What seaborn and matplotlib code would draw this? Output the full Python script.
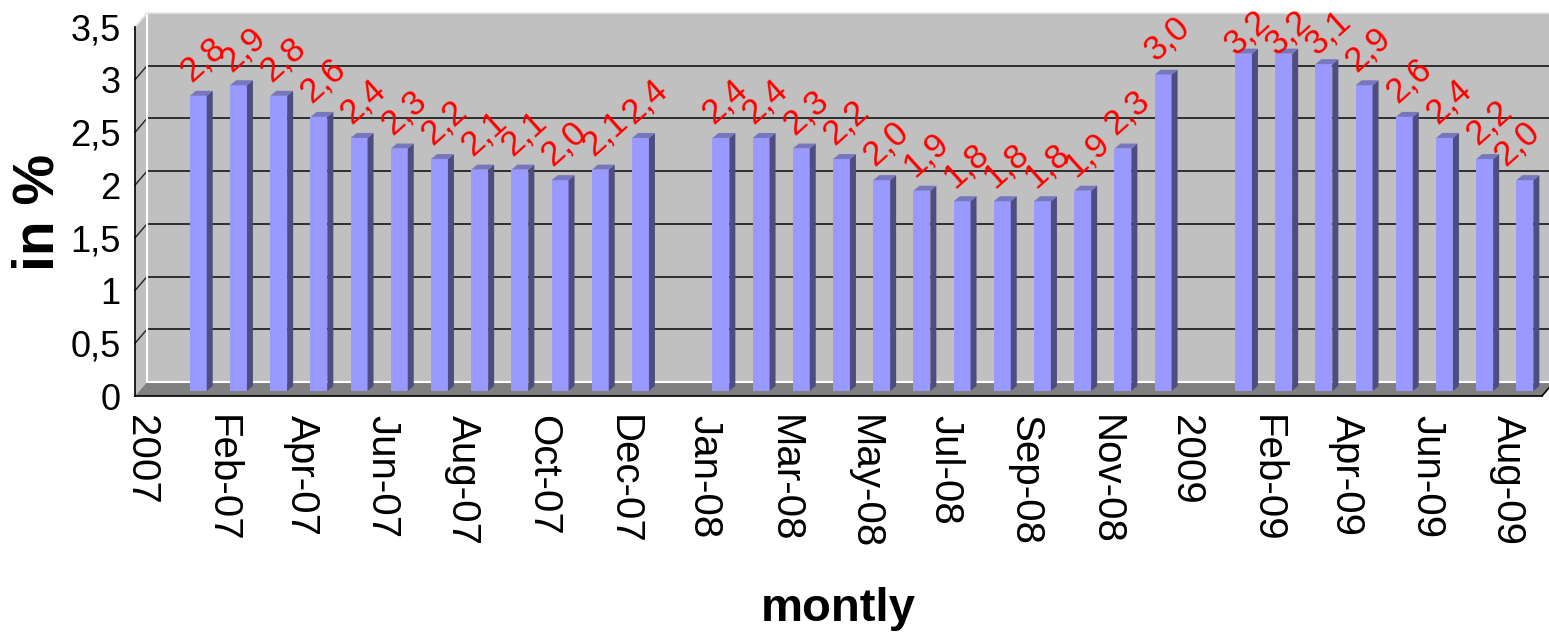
import numpy as np
import pandas as pd
import matplotlib
matplotlib.use("Agg")
import matplotlib.pyplot as plt
import seaborn as sns
from matplotlib.patches import Polygon, Rectangle
from matplotlib.lines import Line2D
from matplotlib.transforms import ScaledTranslation

# Monthly rate in %, one slot per month plus an empty slot heading each year
months = ["2007", "Jan-07", "Feb-07", "Mar-07", "Apr-07", "May-07", "Jun-07",
          "Jul-07", "Aug-07", "Sep-07", "Oct-07", "Nov-07", "Dec-07",
          "2008", "Jan-08", "Feb-08", "Mar-08", "Apr-08", "May-08", "Jun-08",
          "Jul-08", "Aug-08", "Sep-08", "Oct-08", "Nov-08", "Dec-08",
          "2009", "Jan-09", "Feb-09", "Mar-09", "Apr-09", "May-09", "Jun-09",
          "Jul-09", "Aug-09"]
rates = [np.nan, 2.8, 2.9, 2.8, 2.6, 2.4, 2.3, 2.2, 2.1, 2.1, 2.0, 2.1, 2.4,
         np.nan, 2.4, 2.4, 2.3, 2.2, 2.0, 1.9, 1.8, 1.8, 1.8, 1.9, 2.3, 3.0,
         np.nan, 3.2, 3.2, 3.1, 2.9, 2.6, 2.4, 2.2, 2.0]
tick_labels = months[::2]
y_ticks = [0, 0.5, 1, 1.5, 2, 2.5, 3, 3.5]

df = pd.DataFrame({"month": months, "rate": rates})

sns.set_style("white")
fonts = ["Liberation Sans Narrow", "Liberation Sans", "DejaVu Sans"]
plt.rcParams["font.family"] = fonts
plt.rcParams["text.color"] = "black"
plt.rcParams["xtick.color"] = "black"
plt.rcParams["ytick.color"] = "black"

W, H = 1549, 639
fig = plt.figure(figsize=(W / 100, H / 100), dpi=100)
fig.patch.set_facecolor("white")

# front plane of the 3D box, in pixels
left_px, right_px, top_px, bottom_px = 135, 1542, 27, 396
ax = fig.add_axes([left_px / W, 1 - bottom_px / H,
                   (right_px - left_px) / W, (bottom_px - top_px) / H])
ax.set_facecolor("none")

n = len(months)
xmin, xmax = -0.5, n - 0.5
ymin, ymax = 0, 3.5
sx = (xmax - xmin) / (right_px - left_px)   # data units per pixel
sy = (ymax - ymin) / (bottom_px - top_px)

# depth of the box (back wall offset) and of each bar
dxb, dyb = 12 * sx, 14 * sy
bar_dx, bar_dy = 3 * sx, 5 * sy
ddx, ddy = 6 * sx, 5 * sy

wall = "#c0c0c0"
floor = "#808080"

# back wall
ax.add_patch(Polygon([(xmin + dxb, ymin + dyb), (xmax + dxb, ymin + dyb),
                      (xmax + dxb, ymax + dyb), (xmin + dxb, ymax + dyb)],
                     closed=True, facecolor=wall, edgecolor="none",
                     zorder=0.5, clip_on=False))
# side wall
ax.add_patch(Polygon([(xmin, ymin), (xmin + dxb, ymin + dyb),
                      (xmin + dxb, ymax + dyb), (xmin, ymax)],
                     closed=True, facecolor=wall, edgecolor="none",
                     zorder=0.6, clip_on=False))
# floor
ax.add_patch(Polygon([(xmin, ymin), (xmax, ymin),
                      (xmax + dxb, ymin + dyb), (xmin + dxb, ymin + dyb)],
                     closed=True, facecolor=floor, edgecolor="none",
                     zorder=0.7, clip_on=False))

# gridlines on back wall and side wall
for v in y_ticks[1:-1]:
    ax.add_line(Line2D([xmin + dxb, xmax + dxb], [v + dyb, v + dyb],
                       color="#222222", lw=1.3, zorder=0.8, clip_on=False))
    ax.add_line(Line2D([xmin, xmin + dxb], [v, v + dyb],
                       color="#222222", lw=1.0, zorder=0.8, clip_on=False))

# light edges of the walls
ax.add_line(Line2D([xmin + dxb, xmin + dxb], [ymin + dyb, ymax + dyb],
                   color="white", lw=1.5, zorder=0.9, clip_on=False))
ax.add_line(Line2D([xmin + dxb, xmax + dxb], [ymin + dyb, ymin + dyb],
                   color="white", lw=1.5, zorder=0.9, clip_on=False))
ax.add_line(Line2D([xmin, xmin + dxb], [ymax, ymax + dyb],
                   color="#e6e6e6", lw=1.2, zorder=0.9, clip_on=False))
ax.add_line(Line2D([xmin + dxb, xmax + dxb], [ymax + dyb, ymax + dyb],
                   color="#e6e6e6", lw=1.2, zorder=0.9, clip_on=False))
ax.add_line(Line2D([xmax, xmax + dxb], [ymin, ymin + dyb],
                   color="black", lw=1.2, zorder=0.9, clip_on=False))

sns.barplot(data=df, x="month", y="rate", order=months, color="#9999ff",
            saturation=1, width=0.42, errorbar=None, linewidth=0, ax=ax,
            zorder=3)

front = "#9999ff"
side = "#4d4d80"
topc = "#7777c0"
value_texts = []
for p in list(ax.patches):
    if not isinstance(p, Rectangle):
        continue
    h = p.get_height()
    if h is None or not np.isfinite(h) or h <= 0 or p.get_width() > 1:
        continue
    x0 = p.get_x() + bar_dx
    w = p.get_width()
    x1 = x0 + w
    y0 = bar_dy
    y1 = y0 + h
    p.set_x(x0)
    p.set_y(y0)
    p.set_facecolor(front)
    p.set_clip_on(False)
    ax.add_patch(Polygon([(x1, y0), (x1 + ddx, y0 + ddy), (x1 + ddx, y1 + ddy), (x1, y1)],
                         closed=True, facecolor=side, edgecolor="none",
                         zorder=3, clip_on=False))
    ax.add_patch(Polygon([(x0, y1), (x1, y1), (x1 + ddx, y1 + ddy), (x0 + ddx, y1 + ddy)],
                         closed=True, facecolor=topc, edgecolor="none",
                         zorder=3, clip_on=False))
    label = f"{h:.1f}".replace(".", ",")
    t = ax.text(x0 + 1 * sx, y1 + 13 * sy, label, rotation=42, rotation_mode="anchor",
                ha="left", va="baseline", color="red", fontsize=25,
                family=["Liberation Sans", "DejaVu Sans"], zorder=5)
    value_texts.append(t)

ax.set_xlim(xmin, xmax)
ax.set_ylim(ymin, ymax)

# y axis
ax.set_yticks(y_ticks)
ax.set_yticklabels([f"{v:g}".replace(".", ",") for v in y_ticks])
ax.tick_params(axis="y", direction="out", length=5, width=1.2, pad=5.5,
               labelsize=26, colors="black")

# x axis: ticks between months, a label on every second month
ax.set_xticks(np.arange(xmin, xmax + 0.01, 1))
ax.set_xticklabels([])
ax.set_xticks(np.arange(0, n, 2), minor=True)
ax.set_xticklabels(tick_labels, minor=True, rotation=-90)
ax.tick_params(axis="x", which="major", direction="out", length=8, width=1.2,
               colors="black")
ax.tick_params(axis="x", which="minor", length=0, pad=13.5, labelsize=29,
               colors="black")
shift = ScaledTranslation(-14 / 100, 0, fig.dpi_scale_trans)
for lbl in ax.get_xticklabels(minor=True):
    lbl.set_transform(lbl.get_transform() + shift)

ax.set_xlabel("")
ax.set_ylabel("")
for s in ["top", "right"]:
    ax.spines[s].set_visible(False)
for s in ["left", "bottom"]:
    ax.spines[s].set_color("black")
    ax.spines[s].set_linewidth(1.2)
    ax.spines[s].set_zorder(4)

fig.text(39 / W, 1 - 212 / H, "in %", rotation=90, ha="center", va="center",
         fontsize=41, fontweight="bold", color="black")
fig.text(838 / W, 1 - 609 / H, "montly", ha="center", va="center",
         fontsize=34, fontweight="bold", color="black")

# keep the value labels inside the top and right edges of the figure
renderer = fig.canvas.get_renderer()
for t in value_texts:
    bb = t.get_window_extent(renderer)
    x, y = t.get_position()
    over_top = bb.y1 - (H - 4)
    over_right = bb.x1 - (W - 3)
    if over_top > 0:
        y -= over_top * sy
    if over_right > 0:
        x -= over_right * sx
    t.set_position((x, y))

fig.savefig("out.png", dpi=100, facecolor="white")
